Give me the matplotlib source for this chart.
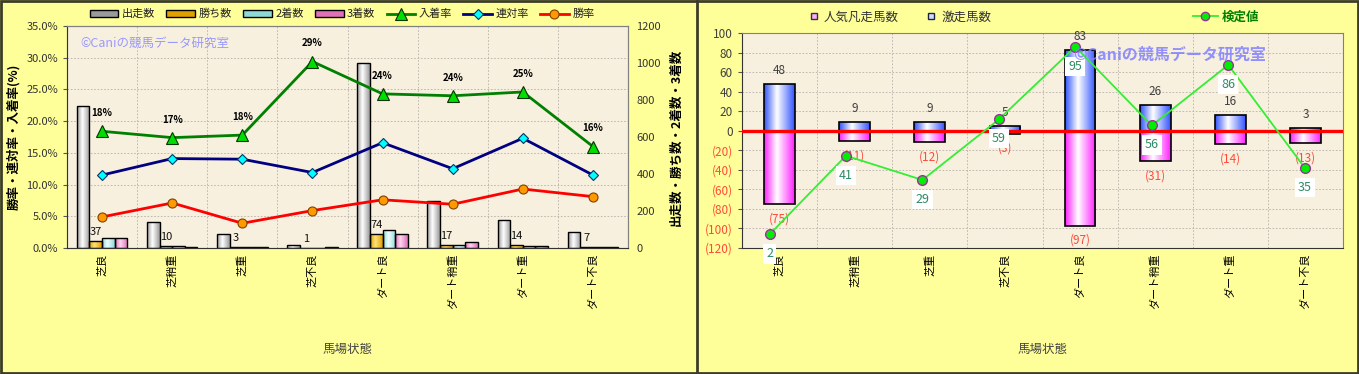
import numpy as np
import matplotlib
matplotlib.use('Agg')
import matplotlib.pyplot as plt
from matplotlib.colors import LinearSegmentedColormap
from matplotlib.patches import Patch, Rectangle
from matplotlib.lines import Line2D

plt.rcParams['font.family'] = ['Noto Sans CJK JP', 'DejaVu Sans']

conditions = ['芝良', '芝稍重', '芝重', '芝不良', 'ダート良', 'ダート稍重', 'ダート重', 'ダート不良']

# left chart: counts (right axis) and rates in % (left axis)
starts = [765, 141, 75, 17, 1000, 254, 151, 88]
wins = [37, 10, 3, 1, 74, 17, 14, 7]
seconds = [52, 10, 8, 1, 95, 14, 10, 3]
thirds = [52, 5, 3, 3, 76, 31, 10, 4]
place_rate = [18.4, 17.4, 17.8, 29.4, 24.3, 24.0, 24.6, 16.0]
quinella_rate = [11.5, 14.1, 14.0, 11.9, 16.6, 12.5, 17.3, 11.5]
win_rate = [4.9, 7.1, 3.9, 5.9, 7.6, 6.9, 9.3, 8.1]

# right chart
upset_counts = [48, 9, 9, 5, 83, 26, 16, 3]          # 激走馬数
flop_counts = [-75, -11, -12, -3, -97, -31, -14, -13]  # 人気凡走馬数
test_values = [2, 41, 29, 59, 95, 56, 86, 35]          # 検定値

W, H = 1359, 374
BG = '#FFFF99'
PLOT_BG = '#F8F0DE'
GRID = '#B8B0A8'


def shade_bars(ax, bars, color, light='white'):
    # horizontal gradient like the excel 3d-ish bars
    cmap = LinearSegmentedColormap.from_list('g', [(0, color), (0.42, light), (1, color)])
    grad = np.linspace(0, 1, 64).reshape(1, -1)
    for b in bars:
        x, y = b.get_x(), b.get_y()
        w, h = b.get_width(), b.get_height()
        if h == 0:
            continue
        im = ax.imshow(grad, cmap=cmap, extent=(x, x + w, min(y, y + h), max(y, y + h)),
                       aspect='auto', zorder=1.5, interpolation='bilinear')
        im.set_clip_path(b)


def fig_rect(x0, y0, x1, y1):
    return [x0 / W, 1 - y1 / H, (x1 - x0) / W, (y1 - y0) / H]


fig = plt.figure(figsize=(W / 100, H / 100), dpi=100, facecolor=BG)

# ---------------- left chart ----------------
axb = fig.add_axes(fig_rect(67, 26, 628, 248), facecolor=PLOT_BG)
axl = axb.twinx()
axl.patch.set_visible(False)

x = np.arange(len(conditions))
bw = 0.18
bar_sets = [
    (starts, '#9A9A9A', '#FFFFFF', '出走数'),
    (wins, '#E0A000', '#FFE27A', '勝ち数'),
    (seconds, '#8ED8D8', '#F0FFFF', '2着数'),
    (thirds, '#E070B8', '#FFD6F0', '3着数'),
]
handles = []
for k, (vals, col, light, name) in enumerate(bar_sets):
    bars = axb.bar(x + (k - 1.5) * bw, vals, bw, facecolor='none', edgecolor='black',
                   linewidth=1, zorder=2)
    shade_bars(axb, bars, col, light)
    handles.append(Patch(facecolor=col, edgecolor='black', label=name))

for i, v in enumerate(wins):
    axb.annotate(str(v), (x[i] - 0.5 * bw, v), xytext=(0, 3), textcoords='offset points',
                 ha='center', va='bottom', fontsize=8, color='#111111', zorder=3)

axb.set_xlim(-0.5, 7.5)
axb.set_ylim(0, 1200)
axb.set_yticks(np.arange(0, 1201, 200))
axb.yaxis.tick_right()
axb.set_xticks(x)
axb.set_xticklabels(conditions, rotation=90, fontsize=8)
axb.tick_params(axis='x', length=0, pad=4)
axb.tick_params(axis='y', labelsize=8, labelcolor='#333333', length=0, pad=6)
for p in np.arange(5, 35, 5):
    axb.axhline(p / 35 * 1200, color=GRID, lw=0.6, ls=(0, (2, 2)), zorder=0.5)
for b in np.arange(0.5, 7.5, 1):
    axb.axvline(b, color=GRID, lw=0.6, ls=(0, (2, 2)), zorder=0.5)

axl.plot(x, place_rate, color='#008000', lw=2, marker='^', ms=8, mfc='#00DD00',
         mec='#003300', mew=0.8, label='入着率', zorder=4)
axl.plot(x, quinella_rate, color='#000080', lw=2, marker='D', ms=5, mfc='#00FFFF',
         mec='#003366', mew=0.8, label='連対率', zorder=4)
axl.plot(x, win_rate, color='#FF0000', lw=2, marker='o', ms=6.5, mfc='#FF9900',
         mec='#804000', mew=0.8, label='勝率', zorder=4)
for i, v in enumerate(place_rate):
    axl.annotate(f'{v:.0f}%', (x[i], v), xytext=(0, 13), textcoords='offset points',
                 ha='center', va='center', fontsize=7, weight='bold', color='black')

axl.set_ylim(0, 35)
axl.set_yticks(np.arange(0, 35.1, 5))
axl.set_yticklabels([f'{t:.1f}%' for t in np.arange(0, 35.1, 5)])
axl.yaxis.tick_left()
axl.yaxis.set_label_position('left')
axl.tick_params(axis='y', labelsize=8, labelcolor='#333333', length=3, color='#555555')
axl.set_ylabel('勝率・連対率・入着率(%)', fontsize=9, weight='bold', labelpad=4)
axb.yaxis.set_label_position('right')
axb.set_ylabel('出走数・勝ち数・2着数・3着数', fontsize=9, weight='bold', labelpad=6)
axb.set_xlabel('馬場状態', fontsize=9, color='#444444', labelpad=24)
for ax in (axb, axl):
    for s in ax.spines.values():
        s.set_color('#808080')
axl.spines['left'].set_color('#333333')
axl.spines['bottom'].set_color('#333333')

fig.text(80 / W, 1 - 43 / H, '©Caniの競馬データ研究室', fontsize=9, color='#9999FF',
         va='center', ha='left')

handles += axl.get_legend_handles_labels()[0]
fig.legend(handles=handles, loc='center', bbox_to_anchor=(342 / W, 1 - 14 / H), ncol=7,
           frameon=False, fontsize=8, handlelength=2.6, handleheight=0.55,
           columnspacing=1.0, handletextpad=0.3, labelcolor='#222222')

# ---------------- right chart ----------------
axr = fig.add_axes(fig_rect(742, 33, 1343, 248), facecolor=PLOT_BG)
rw = 0.41
pos_bars = axr.bar(x, upset_counts, rw, facecolor='none', edgecolor='black', lw=1.2, zorder=2)
neg_bars = axr.bar(x, flop_counts, rw, facecolor='none', edgecolor='black', lw=1.2, zorder=2)
shade_bars(axr, pos_bars, '#3355FF')
shade_bars(axr, neg_bars, '#FF22FF')
axr.axhline(0, color='#FF0000', lw=2.4, zorder=3)

for i in range(len(conditions)):
    axr.annotate(str(upset_counts[i]), (x[i], upset_counts[i]), xytext=(0, 5),
                 textcoords='offset points', ha='center', va='bottom', fontsize=8.5,
                 color='#404040', zorder=3)
    axr.annotate(f'({-flop_counts[i]})', (x[i], flop_counts[i]), xytext=(0, -6),
                 textcoords='offset points', ha='center', va='top', fontsize=8.5,
                 color='#FF4A3A', zorder=3)

axr.set_xlim(-0.5, 7.5)
axr.set_ylim(-120, 100)
yt = np.arange(-120, 101, 20)
axr.set_yticks(yt)
axr.set_yticklabels([str(t) if t >= 0 else f'({-t})' for t in yt])
for lab, t in zip(axr.get_yticklabels(), yt):
    lab.set_color('#FF4A3A' if t < 0 else '#404040')
axr.tick_params(axis='y', labelsize=8.5, length=3, color='#555555')
axr.set_xticks(x)
axr.set_xticklabels(conditions, rotation=90, fontsize=8)
axr.tick_params(axis='x', length=0, pad=4)
axr.set_xlabel('馬場状態', fontsize=9, color='#444444', labelpad=24)
for t in yt[1:-1]:
    axr.axhline(t, color=GRID, lw=0.6, ls=(0, (2, 2)), zorder=0.5)
for b in np.arange(0.5, 7.5, 1):
    axr.axvline(b, color=GRID, lw=0.6, ls=(0, (2, 2)), zorder=0.5)
for s in axr.spines.values():
    s.set_color('#808080')
axr.spines['left'].set_color('#333333')
axr.spines['bottom'].set_color('#333333')

fig.text(1073 / W, 1 - 55 / H, '©Caniの競馬データ研究室', fontsize=11.5, weight='bold',
         color='#8080FF', alpha=0.85, va='center', ha='left', zorder=5)

# 検定値 sits on its own hidden axis (excel secondary axis)
axt = fig.add_axes(fig_rect(742, 33, 1343, 248), facecolor='none')
axt.set_axis_off()
axt.set_xlim(-0.36, 7.5)
axt.set_ylim(-4.7, 101.8)
axt.plot(x, test_values, color='#33EE33', lw=1.3, marker='o', ms=7, mfc='#00EE00',
         mec='#993399', mew=1.0, zorder=4)
for i, v in enumerate(test_values):
    axt.annotate(str(v), (x[i], v), xytext=(0, -14), textcoords='offset points',
                 ha='center', va='center', fontsize=9, color='#2E8B63', zorder=6,
                 bbox=dict(boxstyle='square,pad=0.25', fc='white', ec='none'))

leg_handles = [
    Line2D([], [], ls='none', marker='s', ms=5, mfc='#FFAAFF', mec='#333333', label='人気凡走馬数'),
    Line2D([], [], ls='none', marker='s', ms=5, mfc='#CCDDFF', mec='#222244', label='激走馬数'),
]
fig.legend(handles=leg_handles, loc='center', bbox_to_anchor=(900 / W, 1 - 17 / H), ncol=2,
           frameon=False, fontsize=9, handlelength=0.8, handletextpad=0.4,
           columnspacing=2.2, labelcolor='#333333')
fig.legend(handles=[Line2D([], [], color='#33EE33', lw=1.3, marker='o', ms=6, mfc='#00EE00',
                           mec='#993399', label='検定値')],
           loc='center', bbox_to_anchor=(1226 / W, 1 - 17 / H), frameon=False, fontsize=9,
           handlelength=2.0, handletextpad=0.3,
           prop={'weight': 'bold', 'size': 9}, labelcolor='#008000')

# panel frames
fig.patches.append(Rectangle((0.001, 0.002), 0.998, 0.996, transform=fig.transFigure,
                             fill=False, edgecolor='#3C3C28', lw=2))
fig.lines.append(Line2D([697 / W, 697 / W], [0, 1], transform=fig.transFigure,
                        color='#3C3C28', lw=2))

fig.savefig('out.png', dpi=100, facecolor=BG)
